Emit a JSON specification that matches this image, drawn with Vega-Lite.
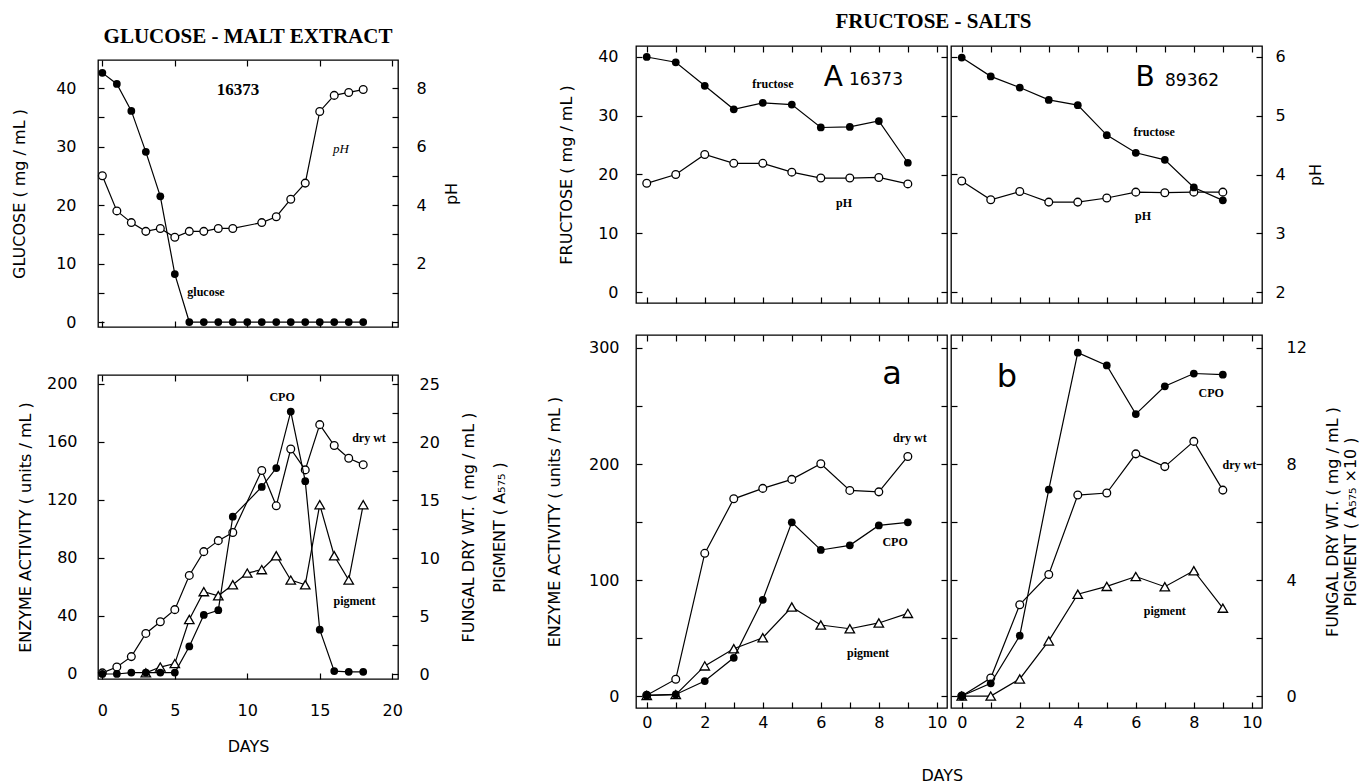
{
  "$schema": "https://vega.github.io/schema/vega-lite/v6.json",
  "background": "white",
  "padding": {"left": 10, "top": 9, "right": 0, "bottom": 0},
  "config": {
    "view": {"stroke": "black", "strokeWidth": 1.3},
    "axis": {"domain": false, "grid": false, "ticks": true, "tickColor": "black", "tickWidth": 1.2, "tickSize": -6,
      "labelFont": "DejaVu Sans", "labelFontSize": 16, "labelColor": "black", "labelOverlap": false, "labelFlush": false,
      "titleFont": "DejaVu Sans", "titleFontSize": 16, "titleFontWeight": "normal", "titleColor": "black"},
    "title": {"color": "black", "subtitleColor": "black"}
  },
  "datasets": {
    "lt": [
      {"series": "glucose", "day": 0, "value": 42.6}, {"series": "glucose", "day": 1, "value": 40.7}, {"series": "glucose", "day": 2, "value": 36.1},
      {"series": "glucose", "day": 3, "value": 29.1}, {"series": "glucose", "day": 4, "value": 21.5}, {"series": "glucose", "day": 5, "value": 8.2},
      {"series": "glucose", "day": 6, "value": 0}, {"series": "glucose", "day": 7, "value": 0}, {"series": "glucose", "day": 8, "value": 0},
      {"series": "glucose", "day": 9, "value": 0}, {"series": "glucose", "day": 10, "value": 0}, {"series": "glucose", "day": 11, "value": 0},
      {"series": "glucose", "day": 12, "value": 0}, {"series": "glucose", "day": 13, "value": 0}, {"series": "glucose", "day": 14, "value": 0},
      {"series": "glucose", "day": 15, "value": 0}, {"series": "glucose", "day": 16, "value": 0}, {"series": "glucose", "day": 17, "value": 0},
      {"series": "glucose", "day": 18, "value": 0},
      {"series": "pH", "day": 0, "value": 5.0}, {"series": "pH", "day": 1, "value": 3.8}, {"series": "pH", "day": 2, "value": 3.4},
      {"series": "pH", "day": 3, "value": 3.1}, {"series": "pH", "day": 4, "value": 3.2}, {"series": "pH", "day": 5, "value": 2.9},
      {"series": "pH", "day": 6, "value": 3.1}, {"series": "pH", "day": 7, "value": 3.1}, {"series": "pH", "day": 8, "value": 3.2},
      {"series": "pH", "day": 9, "value": 3.2}, {"series": "pH", "day": 11, "value": 3.4}, {"series": "pH", "day": 12, "value": 3.6},
      {"series": "pH", "day": 13, "value": 4.2}, {"series": "pH", "day": 14, "value": 4.75}, {"series": "pH", "day": 15, "value": 7.2},
      {"series": "pH", "day": 16, "value": 7.75}, {"series": "pH", "day": 17, "value": 7.85}, {"series": "pH", "day": 18, "value": 7.95}
    ],
    "lb": [
      {"series": "CPO", "day": 0, "value": 0}, {"series": "CPO", "day": 1, "value": 0}, {"series": "CPO", "day": 2, "value": 1},
      {"series": "CPO", "day": 3, "value": 1}, {"series": "CPO", "day": 4, "value": 1}, {"series": "CPO", "day": 5, "value": 1},
      {"series": "CPO", "day": 6, "value": 19}, {"series": "CPO", "day": 7, "value": 40.7}, {"series": "CPO", "day": 8, "value": 44},
      {"series": "CPO", "day": 9, "value": 108.5}, {"series": "CPO", "day": 11, "value": 129}, {"series": "CPO", "day": 12, "value": 142},
      {"series": "CPO", "day": 13, "value": 181}, {"series": "CPO", "day": 14, "value": 133}, {"series": "CPO", "day": 15, "value": 30.6},
      {"series": "CPO", "day": 16, "value": 2}, {"series": "CPO", "day": 17, "value": 1.5}, {"series": "CPO", "day": 18, "value": 1.5},
      {"series": "dry wt", "day": 0, "value": 0.1}, {"series": "dry wt", "day": 1, "value": 0.6}, {"series": "dry wt", "day": 2, "value": 1.5},
      {"series": "dry wt", "day": 3, "value": 3.5}, {"series": "dry wt", "day": 4, "value": 4.5}, {"series": "dry wt", "day": 5, "value": 5.55},
      {"series": "dry wt", "day": 6, "value": 8.5}, {"series": "dry wt", "day": 7, "value": 10.55}, {"series": "dry wt", "day": 8, "value": 11.5},
      {"series": "dry wt", "day": 9, "value": 12.2}, {"series": "dry wt", "day": 11, "value": 17.55}, {"series": "dry wt", "day": 12, "value": 14.5},
      {"series": "dry wt", "day": 13, "value": 19.4}, {"series": "dry wt", "day": 14, "value": 17.6}, {"series": "dry wt", "day": 15, "value": 21.5},
      {"series": "dry wt", "day": 16, "value": 19.7}, {"series": "dry wt", "day": 17, "value": 18.6}, {"series": "dry wt", "day": 18, "value": 18.05},
      {"series": "pigment", "day": 3, "value": 0.1}, {"series": "pigment", "day": 4, "value": 0.6}, {"series": "pigment", "day": 5, "value": 0.9},
      {"series": "pigment", "day": 6, "value": 4.7}, {"series": "pigment", "day": 7, "value": 7.1}, {"series": "pigment", "day": 8, "value": 6.75},
      {"series": "pigment", "day": 9, "value": 7.7}, {"series": "pigment", "day": 10, "value": 8.7}, {"series": "pigment", "day": 11, "value": 9.0},
      {"series": "pigment", "day": 12, "value": 10.2}, {"series": "pigment", "day": 13, "value": 8.1}, {"series": "pigment", "day": 14, "value": 7.7},
      {"series": "pigment", "day": 15, "value": 14.6}, {"series": "pigment", "day": 16, "value": 10.2}, {"series": "pigment", "day": 17, "value": 8.1},
      {"series": "pigment", "day": 18, "value": 14.6}
    ],
    "fa": [
      {"series": "fructose", "day": 0, "value": 40}, {"series": "fructose", "day": 1, "value": 39.1}, {"series": "fructose", "day": 2, "value": 35.1},
      {"series": "fructose", "day": 3, "value": 31.1}, {"series": "fructose", "day": 4, "value": 32.2}, {"series": "fructose", "day": 5, "value": 31.9},
      {"series": "fructose", "day": 6, "value": 28}, {"series": "fructose", "day": 7, "value": 28.1}, {"series": "fructose", "day": 8, "value": 29.1},
      {"series": "fructose", "day": 9, "value": 22},
      {"series": "pH", "day": 0, "value": 3.85}, {"series": "pH", "day": 1, "value": 4.0}, {"series": "pH", "day": 2, "value": 4.34},
      {"series": "pH", "day": 3, "value": 4.19}, {"series": "pH", "day": 4, "value": 4.19}, {"series": "pH", "day": 5, "value": 4.04},
      {"series": "pH", "day": 6, "value": 3.94}, {"series": "pH", "day": 7, "value": 3.94}, {"series": "pH", "day": 8, "value": 3.95},
      {"series": "pH", "day": 9, "value": 3.84}
    ],
    "fb": [
      {"series": "fructose", "day": 0, "value": 39.9}, {"series": "fructose", "day": 1, "value": 36.7}, {"series": "fructose", "day": 2, "value": 34.8},
      {"series": "fructose", "day": 3, "value": 32.7}, {"series": "fructose", "day": 4, "value": 31.8}, {"series": "fructose", "day": 5, "value": 26.7},
      {"series": "fructose", "day": 6, "value": 23.7}, {"series": "fructose", "day": 7, "value": 22.5}, {"series": "fructose", "day": 8, "value": 17.8},
      {"series": "fructose", "day": 9, "value": 15.6},
      {"series": "pH", "day": 0, "value": 3.89}, {"series": "pH", "day": 1, "value": 3.57}, {"series": "pH", "day": 2, "value": 3.71},
      {"series": "pH", "day": 3, "value": 3.53}, {"series": "pH", "day": 4, "value": 3.53}, {"series": "pH", "day": 5, "value": 3.6},
      {"series": "pH", "day": 6, "value": 3.7}, {"series": "pH", "day": 7, "value": 3.69}, {"series": "pH", "day": 8, "value": 3.7},
      {"series": "pH", "day": 9, "value": 3.7}
    ],
    "ea": [
      {"series": "CPO", "day": 0, "value": 0.6}, {"series": "CPO", "day": 1, "value": 1.4}, {"series": "CPO", "day": 2, "value": 12.9},
      {"series": "CPO", "day": 3, "value": 33}, {"series": "CPO", "day": 4, "value": 83}, {"series": "CPO", "day": 5, "value": 149.7},
      {"series": "CPO", "day": 6, "value": 125.9}, {"series": "CPO", "day": 7, "value": 129.9}, {"series": "CPO", "day": 8, "value": 147.1},
      {"series": "CPO", "day": 9, "value": 149.7},
      {"series": "dry wt", "day": 0, "value": 0.03}, {"series": "dry wt", "day": 1, "value": 0.58}, {"series": "dry wt", "day": 2, "value": 4.92},
      {"series": "dry wt", "day": 3, "value": 6.8}, {"series": "dry wt", "day": 4, "value": 7.16}, {"series": "dry wt", "day": 5, "value": 7.47},
      {"series": "dry wt", "day": 6, "value": 8.01}, {"series": "dry wt", "day": 7, "value": 7.09}, {"series": "dry wt", "day": 8, "value": 7.04},
      {"series": "dry wt", "day": 9, "value": 8.26},
      {"series": "pigment", "day": 0, "value": 0.02}, {"series": "pigment", "day": 1, "value": 0.05}, {"series": "pigment", "day": 2, "value": 1.04},
      {"series": "pigment", "day": 3, "value": 1.63}, {"series": "pigment", "day": 4, "value": 2.01}, {"series": "pigment", "day": 5, "value": 3.07},
      {"series": "pigment", "day": 6, "value": 2.45}, {"series": "pigment", "day": 7, "value": 2.32}, {"series": "pigment", "day": 8, "value": 2.52},
      {"series": "pigment", "day": 9, "value": 2.85}
    ],
    "eb": [
      {"series": "CPO", "day": 0, "value": 0}, {"series": "CPO", "day": 1, "value": 11}, {"series": "CPO", "day": 2, "value": 52},
      {"series": "CPO", "day": 3, "value": 178}, {"series": "CPO", "day": 4, "value": 296}, {"series": "CPO", "day": 5, "value": 285},
      {"series": "CPO", "day": 6, "value": 243}, {"series": "CPO", "day": 7, "value": 267}, {"series": "CPO", "day": 8, "value": 278},
      {"series": "CPO", "day": 9, "value": 277},
      {"series": "dry wt", "day": 0, "value": 0}, {"series": "dry wt", "day": 1, "value": 0.62}, {"series": "dry wt", "day": 2, "value": 3.15},
      {"series": "dry wt", "day": 3, "value": 4.19}, {"series": "dry wt", "day": 4, "value": 6.93}, {"series": "dry wt", "day": 5, "value": 7.0},
      {"series": "dry wt", "day": 6, "value": 8.35}, {"series": "dry wt", "day": 7, "value": 7.91}, {"series": "dry wt", "day": 8, "value": 8.78},
      {"series": "dry wt", "day": 9, "value": 7.1},
      {"series": "pigment", "day": 0, "value": 0}, {"series": "pigment", "day": 1, "value": 0}, {"series": "pigment", "day": 2, "value": 0.59},
      {"series": "pigment", "day": 3, "value": 1.9}, {"series": "pigment", "day": 4, "value": 3.51}, {"series": "pigment", "day": 5, "value": 3.78},
      {"series": "pigment", "day": 6, "value": 4.12}, {"series": "pigment", "day": 7, "value": 3.77}, {"series": "pigment", "day": 8, "value": 4.32},
      {"series": "pigment", "day": 9, "value": 3.03}
    ],
    "notes": [
      {"panel": "LT", "label": "16373", "day": 9.36, "value": 39.7},
      {"panel": "LT", "label": "pH", "day": 16.47, "value": 29.6},
      {"panel": "LT", "label": "glucose", "day": 7.15, "value": 5.1},
      {"panel": "LB", "label": "CPO", "day": 12.4, "value": 191},
      {"panel": "LB", "label": "dry wt", "day": 18.4, "value": 163},
      {"panel": "LB", "label": "pigment", "day": 17.4, "value": 50},
      {"panel": "A", "label": "fructose", "day": 4.35, "value": 35.4},
      {"panel": "A", "label": "pH", "day": 6.8, "value": 15.1},
      {"panel": "A", "label": "A", "day": 6.43, "value": 36.4},
      {"panel": "A", "label": "16373", "day": 7.9, "value": 36},
      {"panel": "B", "label": "fructose", "day": 6.63, "value": 27.2},
      {"panel": "B", "label": "pH", "day": 6.25, "value": 12.9},
      {"panel": "B", "label": "B", "day": 6.32, "value": 36.4},
      {"panel": "B", "label": "89362", "day": 7.94, "value": 35.9},
      {"panel": "a", "label": "a", "day": 8.46, "value": 278},
      {"panel": "a", "label": "dry wt", "day": 9.07, "value": 222},
      {"panel": "a", "label": "CPO", "day": 8.56, "value": 133},
      {"panel": "a", "label": "pigment", "day": 7.63, "value": 37},
      {"panel": "b", "label": "b", "day": 1.56, "value": 275},
      {"panel": "b", "label": "CPO", "day": 8.6, "value": 261},
      {"panel": "b", "label": "dry wt", "day": 9.57, "value": 199},
      {"panel": "b", "label": "pigment", "day": 7.0, "value": 73}
    ]
  },
  "columns": 2,
  "align": "none",
  "spacing": {"row": 0, "column": 36},
  "concat": [
    {"width": 1, "height": 1, "view": {"stroke": null}, "data": {"values": [{"v": 0}]}, "mark": {"type": "point", "size": 0, "opacity": 0}, "encoding": {}},
    {"width": 1, "height": 1, "view": {"stroke": null}, "data": {"values": [{"v": 0}]}, "mark": {"type": "point", "size": 0, "opacity": 0}, "encoding": {}},
    {
      "spacing": 48,
      "bounds": "flush",
      "vconcat": [
        {
          "width": 300, "height": 267,
          "title": {"text": " ", "fontSize": 12, "subtitle": "GLUCOSE - MALT EXTRACT", "subtitleFont": "Liberation Serif", "subtitleFontSize": 21, "subtitleFontWeight": "bold", "subtitlePadding": 2, "anchor": "middle", "frame": "group", "offset": 11},
          "data": {"name": "lt"},
          "resolve": {"scale": {"y": "independent"}, "axis": {"x": "independent"}},
          "layer": [
            {"transform": [{"filter": "datum.series === 'pH'"}],
             "mark": {"type": "line", "color": "black", "strokeWidth": 1.2, "point": {"filled": true, "fill": "white", "stroke": "black", "strokeWidth": 1.3, "size": 60, "opacity": 1}},
             "encoding": {
               "x": {"field": "day", "type": "quantitative", "scale": {"domain": [-0.3, 20.4], "nice": false, "zero": false}, "axis": {"orient": "top", "values": [0, 5, 10, 15, 20], "labels": false, "title": null}},
               "y": {"field": "value", "type": "quantitative", "scale": {"domain": [-0.17, 8.96], "nice": false, "zero": false}, "axis": {"orient": "right", "values": [0, 1, 2, 3, 4, 5, 6, 7, 8], "labelExpr": "datum.value % 2 === 0 && datum.value > 0 ? datum.label : ''", "title": "pH", "titleAngle": 270, "titleBaseline": "top", "labelPadding": 24, "titlePadding": 17}}}},
            {"transform": [{"filter": "datum.series === 'glucose'"}],
             "mark": {"type": "line", "color": "black", "strokeWidth": 1.2, "point": {"filled": true, "fill": "black", "size": 60, "opacity": 1}},
             "encoding": {
               "x": {"field": "day", "type": "quantitative", "scale": {"domain": [-0.3, 20.4], "nice": false, "zero": false}, "axis": {"orient": "bottom", "values": [0, 5, 10, 15, 20], "labels": false, "title": null}},
               "y": {"field": "value", "type": "quantitative", "scale": {"domain": [-0.85, 44.8], "nice": false, "zero": false}, "axis": {"orient": "left", "values": [0, 5, 10, 15, 20, 25, 30, 35, 40], "labelExpr": "datum.value % 10 === 0 ? datum.label : ''", "title": "GLUCOSE ( mg / mL )", "labelPadding": 28, "titlePadding": 28}}}},
            {"data": {"name": "notes"}, "transform": [{"filter": "datum.panel === 'LT' && datum.label === '16373'"}],
             "mark": {"type": "text", "font": "Liberation Serif", "fontWeight": "bold", "fontSize": 17, "color": "black"},
             "encoding": {
               "x": {"field": "day", "type": "quantitative", "scale": {"domain": [-0.3, 20.4], "nice": false, "zero": false}, "axis": null},
               "y": {"field": "value", "type": "quantitative", "scale": {"domain": [-0.85, 44.8], "nice": false, "zero": false}, "axis": null},
               "text": {"field": "label"}}},
            {"data": {"name": "notes"}, "transform": [{"filter": "datum.panel === 'LT' && datum.label === 'pH'"}],
             "mark": {"type": "text", "font": "Liberation Serif", "fontStyle": "italic", "fontSize": 13, "color": "black"},
             "encoding": {
               "x": {"field": "day", "type": "quantitative", "scale": {"domain": [-0.3, 20.4], "nice": false, "zero": false}, "axis": null},
               "y": {"field": "value", "type": "quantitative", "scale": {"domain": [-0.85, 44.8], "nice": false, "zero": false}, "axis": null},
               "text": {"field": "label"}}},
            {"data": {"name": "notes"}, "transform": [{"filter": "datum.panel === 'LT' && datum.label === 'glucose'"}],
             "mark": {"type": "text", "font": "Liberation Serif", "fontWeight": "bold", "fontSize": 12, "color": "black"},
             "encoding": {
               "x": {"field": "day", "type": "quantitative", "scale": {"domain": [-0.3, 20.4], "nice": false, "zero": false}, "axis": null},
               "y": {"field": "value", "type": "quantitative", "scale": {"domain": [-0.85, 44.8], "nice": false, "zero": false}, "axis": null},
               "text": {"field": "label"}}}
          ]
        },
        {
          "width": 300, "height": 304,
          "data": {"name": "lb"},
          "resolve": {"scale": {"y": "independent"}, "axis": {"x": "independent"}},
          "layer": [
            {"transform": [{"filter": "datum.series === 'pigment'"}],
             "mark": {"type": "line", "color": "black", "strokeWidth": 1.2, "point": {"shape": "triangle-up", "filled": true, "fill": "white", "stroke": "black", "strokeWidth": 1.3, "size": 90, "opacity": 1}},
             "encoding": {
               "x": {"field": "day", "type": "quantitative", "scale": {"domain": [-0.3, 20.4], "nice": false, "zero": false}, "axis": null},
               "y": {"field": "value", "type": "quantitative", "scale": {"domain": [-0.43, 25.78], "nice": false, "zero": false}, "axis": null}}},
            {"transform": [{"filter": "datum.series === 'dry wt'"}],
             "mark": {"type": "line", "color": "black", "strokeWidth": 1.2, "point": {"filled": true, "fill": "white", "stroke": "black", "strokeWidth": 1.3, "size": 60, "opacity": 1}},
             "encoding": {
               "x": {"field": "day", "type": "quantitative", "scale": {"domain": [-0.3, 20.4], "nice": false, "zero": false}, "axis": {"orient": "top", "values": [0, 5, 10, 15, 20], "labels": false, "title": null}},
               "y": {"field": "value", "type": "quantitative", "scale": {"domain": [-0.43, 25.78], "nice": false, "zero": false}, "axis": {"orient": "right", "values": [0, 2.5, 5, 7.5, 10, 12.5, 15, 17.5, 20, 22.5, 25], "labelExpr": "datum.value % 5 === 0 ? datum.label : ''", "title": ["FUNGAL DRY WT. ( mg / mL )", "PIGMENT ( A₅₇₅ )"], "titleAngle": 270, "titleBaseline": "top", "titleLineHeight": 31, "labelPadding": 27, "titlePadding": -10}}}},
            {"transform": [{"filter": "datum.series === 'CPO'"}],
             "mark": {"type": "line", "color": "black", "strokeWidth": 1.2, "point": {"filled": true, "fill": "black", "size": 60, "opacity": 1}},
             "encoding": {
               "x": {"field": "day", "type": "quantitative", "scale": {"domain": [-0.3, 20.4], "nice": false, "zero": false}, "axis": {"orient": "bottom", "values": [0, 5, 10, 15, 20], "title": "DAYS", "labelPadding": 29, "titlePadding": 20}},
               "y": {"field": "value", "type": "quantitative", "scale": {"domain": [-3.45, 206.2], "nice": false, "zero": false}, "axis": {"orient": "left", "values": [0, 40, 80, 120, 160, 200], "title": "ENZYME ACTIVITY ( units / mL )", "labelPadding": 27, "titlePadding": 13}}}},
            {"data": {"name": "notes"}, "transform": [{"filter": "datum.panel === 'LB'"}],
             "mark": {"type": "text", "font": "Liberation Serif", "fontWeight": "bold", "fontSize": 12, "color": "black"},
             "encoding": {
               "x": {"field": "day", "type": "quantitative", "scale": {"domain": [-0.3, 20.4], "nice": false, "zero": false}, "axis": null},
               "y": {"field": "value", "type": "quantitative", "scale": {"domain": [-3.45, 206.2], "nice": false, "zero": false}, "axis": null},
               "text": {"field": "label"}}}
          ]
        }
      ]
    },
    {
      "title": {"text": "DAYS", "orient": "bottom", "anchor": "middle", "frame": "bounds", "dx": -10, "offset": 37, "font": "DejaVu Sans", "fontSize": 16, "fontWeight": "normal"},
      "vconcat": [
        {
          "spacing": 0,
          "title": {"text": "FRUCTOSE - SALTS", "font": "Liberation Serif", "fontSize": 21, "fontWeight": "bold", "anchor": "middle", "frame": "bounds", "offset": 13, "dx": -19},
          "hconcat": [
            {
              "spacing": 32,
              "bounds": "flush",
              "vconcat": [
                {
                  "width": 311, "height": 257,
                  "data": {"name": "fa"},
                  "resolve": {"scale": {"y": "independent"}, "axis": {"x": "independent"}},
                  "layer": [
                    {"transform": [{"filter": "datum.series === 'pH'"}],
                     "mark": {"type": "line", "color": "black", "strokeWidth": 1.2, "point": {"filled": true, "fill": "white", "stroke": "black", "strokeWidth": 1.3, "size": 60, "opacity": 1}},
                     "encoding": {
                       "x": {"field": "day", "type": "quantitative", "scale": {"domain": [-0.37, 10.35], "nice": false, "zero": false}, "axis": {"orient": "top", "values": [0, 1, 2, 3, 4, 5, 6, 7, 8, 9, 10], "labels": false, "title": null}},
                       "y": {"field": "value", "type": "quantitative", "scale": {"domain": [1.813, 6.187], "nice": false, "zero": false}, "axis": {"orient": "right", "values": [2, 3, 4, 5, 6], "labels": false, "title": null}}}},
                    {"transform": [{"filter": "datum.series === 'fructose'"}],
                     "mark": {"type": "line", "color": "black", "strokeWidth": 1.2, "point": {"filled": true, "fill": "black", "size": 60, "opacity": 1}},
                     "encoding": {
                       "x": {"field": "day", "type": "quantitative", "scale": {"domain": [-0.37, 10.35], "nice": false, "zero": false}, "axis": {"orient": "bottom", "values": [0, 1, 2, 3, 4, 5, 6, 7, 8, 9, 10], "labels": false, "title": null}},
                       "y": {"field": "value", "type": "quantitative", "scale": {"domain": [-1.87, 41.87], "nice": false, "zero": false}, "axis": {"orient": "left", "values": [0, 10, 20, 30, 40], "title": "FRUCTOSE ( mg / mL )", "labelPadding": 24, "titlePadding": 23}}}},
                    {"data": {"name": "notes"}, "transform": [{"filter": "datum.panel === 'A' && (datum.label === 'fructose' || datum.label === 'pH')"}],
                     "mark": {"type": "text", "font": "Liberation Serif", "fontWeight": "bold", "fontSize": 12, "color": "black"},
                     "encoding": {
                       "x": {"field": "day", "type": "quantitative", "scale": {"domain": [-0.37, 10.35], "nice": false, "zero": false}, "axis": null},
                       "y": {"field": "value", "type": "quantitative", "scale": {"domain": [-1.87, 41.87], "nice": false, "zero": false}, "axis": null},
                       "text": {"field": "label"}}},
                    {"data": {"name": "notes"}, "transform": [{"filter": "datum.panel === 'A' && datum.label === 'A'"}],
                     "mark": {"type": "text", "font": "DejaVu Sans", "fontSize": 28, "color": "black"},
                     "encoding": {
                       "x": {"field": "day", "type": "quantitative", "scale": {"domain": [-0.37, 10.35], "nice": false, "zero": false}, "axis": null},
                       "y": {"field": "value", "type": "quantitative", "scale": {"domain": [-1.87, 41.87], "nice": false, "zero": false}, "axis": null},
                       "text": {"field": "label"}}},
                    {"data": {"name": "notes"}, "transform": [{"filter": "datum.panel === 'A' && datum.label === '16373'"}],
                     "mark": {"type": "text", "font": "DejaVu Sans", "fontSize": 17, "color": "black"},
                     "encoding": {
                       "x": {"field": "day", "type": "quantitative", "scale": {"domain": [-0.37, 10.35], "nice": false, "zero": false}, "axis": null},
                       "y": {"field": "value", "type": "quantitative", "scale": {"domain": [-1.87, 41.87], "nice": false, "zero": false}, "axis": null},
                       "text": {"field": "label"}}}
                  ]
                },
                {
                  "width": 311, "height": 373,
                  "data": {"name": "ea"},
                  "resolve": {"scale": {"y": "independent"}, "axis": {"x": "independent"}},
                  "layer": [
                    {"transform": [{"filter": "datum.series === 'pigment'"}],
                     "mark": {"type": "line", "color": "black", "strokeWidth": 1.2, "point": {"shape": "triangle-up", "filled": true, "fill": "white", "stroke": "black", "strokeWidth": 1.3, "size": 90, "opacity": 1}},
                     "encoding": {
                       "x": {"field": "day", "type": "quantitative", "scale": {"domain": [-0.37, 10.35], "nice": false, "zero": false}, "axis": null},
                       "y": {"field": "value", "type": "quantitative", "scale": {"domain": [-0.412, 12.448], "nice": false, "zero": false}, "axis": null}}},
                    {"transform": [{"filter": "datum.series === 'dry wt'"}],
                     "mark": {"type": "line", "color": "black", "strokeWidth": 1.2, "point": {"filled": true, "fill": "white", "stroke": "black", "strokeWidth": 1.3, "size": 60, "opacity": 1}},
                     "encoding": {
                       "x": {"field": "day", "type": "quantitative", "scale": {"domain": [-0.37, 10.35], "nice": false, "zero": false}, "axis": {"orient": "top", "values": [0, 1, 2, 3, 4, 5, 6, 7, 8, 9, 10], "labels": false, "title": null}},
                       "y": {"field": "value", "type": "quantitative", "scale": {"domain": [-0.412, 12.448], "nice": false, "zero": false}, "axis": {"orient": "right", "values": [0, 2, 4, 6, 8, 10, 12], "labels": false, "title": null}}}},
                    {"transform": [{"filter": "datum.series === 'CPO'"}],
                     "mark": {"type": "line", "color": "black", "strokeWidth": 1.2, "point": {"filled": true, "fill": "black", "size": 60, "opacity": 1}},
                     "encoding": {
                       "x": {"field": "day", "type": "quantitative", "scale": {"domain": [-0.37, 10.35], "nice": false, "zero": false}, "axis": {"orient": "bottom", "values": [0, 1, 2, 3, 4, 5, 6, 7, 8, 9, 10], "labelExpr": "datum.value % 2 === 0 ? datum.label : ''", "title": null, "labelPadding": 12}},
                       "y": {"field": "value", "type": "quantitative", "scale": {"domain": [-10.3, 311.2], "nice": false, "zero": false}, "axis": {"orient": "left", "values": [0, 50, 100, 150, 200, 250, 300], "labelExpr": "datum.value % 100 === 0 ? datum.label : ''", "title": "ENZYME ACTIVITY ( units / mL )", "labelPadding": 23, "titlePadding": 26}}}},
                    {"data": {"name": "notes"}, "transform": [{"filter": "datum.panel === 'a' && datum.label !== 'a'"}],
                     "mark": {"type": "text", "font": "Liberation Serif", "fontWeight": "bold", "fontSize": 12, "color": "black"},
                     "encoding": {
                       "x": {"field": "day", "type": "quantitative", "scale": {"domain": [-0.37, 10.35], "nice": false, "zero": false}, "axis": null},
                       "y": {"field": "value", "type": "quantitative", "scale": {"domain": [-10.3, 311.2], "nice": false, "zero": false}, "axis": null},
                       "text": {"field": "label"}}},
                    {"data": {"name": "notes"}, "transform": [{"filter": "datum.panel === 'a' && datum.label === 'a'"}],
                     "mark": {"type": "text", "font": "DejaVu Sans", "fontSize": 32, "color": "black"},
                     "encoding": {
                       "x": {"field": "day", "type": "quantitative", "scale": {"domain": [-0.37, 10.35], "nice": false, "zero": false}, "axis": null},
                       "y": {"field": "value", "type": "quantitative", "scale": {"domain": [-10.3, 311.2], "nice": false, "zero": false}, "axis": null},
                       "text": {"field": "label"}}}
                  ]
                }
              ]
            },
            {
              "spacing": 32,
              "bounds": "flush",
              "vconcat": [
                {
                  "width": 311, "height": 257,
                  "data": {"name": "fb"},
                  "resolve": {"scale": {"y": "independent"}, "axis": {"x": "independent"}},
                  "layer": [
                    {"transform": [{"filter": "datum.series === 'pH'"}],
                     "mark": {"type": "line", "color": "black", "strokeWidth": 1.2, "point": {"filled": true, "fill": "white", "stroke": "black", "strokeWidth": 1.3, "size": 60, "opacity": 1}},
                     "encoding": {
                       "x": {"field": "day", "type": "quantitative", "scale": {"domain": [-0.37, 10.35], "nice": false, "zero": false}, "axis": {"orient": "top", "values": [0, 1, 2, 3, 4, 5, 6, 7, 8, 9, 10], "labels": false, "title": null}},
                       "y": {"field": "value", "type": "quantitative", "scale": {"domain": [1.813, 6.187], "nice": false, "zero": false}, "axis": {"orient": "right", "values": [2, 3, 4, 5, 6], "title": "pH", "titleAngle": 270, "titleBaseline": "top", "labelPadding": 19, "titlePadding": 22}}}},
                    {"transform": [{"filter": "datum.series === 'fructose'"}],
                     "mark": {"type": "line", "color": "black", "strokeWidth": 1.2, "point": {"filled": true, "fill": "black", "size": 60, "opacity": 1}},
                     "encoding": {
                       "x": {"field": "day", "type": "quantitative", "scale": {"domain": [-0.37, 10.35], "nice": false, "zero": false}, "axis": {"orient": "bottom", "values": [0, 1, 2, 3, 4, 5, 6, 7, 8, 9, 10], "labels": false, "title": null}},
                       "y": {"field": "value", "type": "quantitative", "scale": {"domain": [-1.87, 41.87], "nice": false, "zero": false}, "axis": {"orient": "left", "values": [0, 10, 20, 30, 40], "labels": false, "title": null}}}},
                    {"data": {"name": "notes"}, "transform": [{"filter": "datum.panel === 'B' && (datum.label === 'fructose' || datum.label === 'pH')"}],
                     "mark": {"type": "text", "font": "Liberation Serif", "fontWeight": "bold", "fontSize": 12, "color": "black"},
                     "encoding": {
                       "x": {"field": "day", "type": "quantitative", "scale": {"domain": [-0.37, 10.35], "nice": false, "zero": false}, "axis": null},
                       "y": {"field": "value", "type": "quantitative", "scale": {"domain": [-1.87, 41.87], "nice": false, "zero": false}, "axis": null},
                       "text": {"field": "label"}}},
                    {"data": {"name": "notes"}, "transform": [{"filter": "datum.panel === 'B' && datum.label === 'B'"}],
                     "mark": {"type": "text", "font": "DejaVu Sans", "fontSize": 28, "color": "black"},
                     "encoding": {
                       "x": {"field": "day", "type": "quantitative", "scale": {"domain": [-0.37, 10.35], "nice": false, "zero": false}, "axis": null},
                       "y": {"field": "value", "type": "quantitative", "scale": {"domain": [-1.87, 41.87], "nice": false, "zero": false}, "axis": null},
                       "text": {"field": "label"}}},
                    {"data": {"name": "notes"}, "transform": [{"filter": "datum.panel === 'B' && datum.label === '89362'"}],
                     "mark": {"type": "text", "font": "DejaVu Sans", "fontSize": 17, "color": "black"},
                     "encoding": {
                       "x": {"field": "day", "type": "quantitative", "scale": {"domain": [-0.37, 10.35], "nice": false, "zero": false}, "axis": null},
                       "y": {"field": "value", "type": "quantitative", "scale": {"domain": [-1.87, 41.87], "nice": false, "zero": false}, "axis": null},
                       "text": {"field": "label"}}}
                  ]
                },
                {
                  "width": 311, "height": 373,
                  "data": {"name": "eb"},
                  "resolve": {"scale": {"y": "independent"}, "axis": {"x": "independent"}},
                  "layer": [
                    {"transform": [{"filter": "datum.series === 'pigment'"}],
                     "mark": {"type": "line", "color": "black", "strokeWidth": 1.2, "point": {"shape": "triangle-up", "filled": true, "fill": "white", "stroke": "black", "strokeWidth": 1.3, "size": 90, "opacity": 1}},
                     "encoding": {
                       "x": {"field": "day", "type": "quantitative", "scale": {"domain": [-0.37, 10.35], "nice": false, "zero": false}, "axis": null},
                       "y": {"field": "value", "type": "quantitative", "scale": {"domain": [-0.412, 12.448], "nice": false, "zero": false}, "axis": null}}},
                    {"transform": [{"filter": "datum.series === 'dry wt'"}],
                     "mark": {"type": "line", "color": "black", "strokeWidth": 1.2, "point": {"filled": true, "fill": "white", "stroke": "black", "strokeWidth": 1.3, "size": 60, "opacity": 1}},
                     "encoding": {
                       "x": {"field": "day", "type": "quantitative", "scale": {"domain": [-0.37, 10.35], "nice": false, "zero": false}, "axis": {"orient": "top", "values": [0, 1, 2, 3, 4, 5, 6, 7, 8, 9, 10], "labels": false, "title": null}},
                       "y": {"field": "value", "type": "quantitative", "scale": {"domain": [-0.412, 12.448], "nice": false, "zero": false}, "axis": {"orient": "right", "values": [0, 2, 4, 6, 8, 10, 12], "labelExpr": "datum.value % 4 === 0 ? datum.label : ''", "title": ["FUNGAL DRY WT. ( mg / mL )", "PIGMENT ( A₅₇₅ ×10 )"], "titleAngle": 270, "titleBaseline": "top", "titleLineHeight": 18, "labelPadding": 30, "titlePadding": 0}}}},
                    {"transform": [{"filter": "datum.series === 'CPO'"}],
                     "mark": {"type": "line", "color": "black", "strokeWidth": 1.2, "point": {"filled": true, "fill": "black", "size": 60, "opacity": 1}},
                     "encoding": {
                       "x": {"field": "day", "type": "quantitative", "scale": {"domain": [-0.37, 10.35], "nice": false, "zero": false}, "axis": {"orient": "bottom", "values": [0, 1, 2, 3, 4, 5, 6, 7, 8, 9, 10], "labelExpr": "datum.value % 2 === 0 ? datum.label : ''", "title": null, "labelPadding": 12}},
                       "y": {"field": "value", "type": "quantitative", "scale": {"domain": [-10.3, 311.2], "nice": false, "zero": false}, "axis": {"orient": "left", "values": [0, 50, 100, 150, 200, 250, 300], "labels": false, "title": null}}}},
                    {"data": {"name": "notes"}, "transform": [{"filter": "datum.panel === 'b' && datum.label !== 'b'"}],
                     "mark": {"type": "text", "font": "Liberation Serif", "fontWeight": "bold", "fontSize": 12, "color": "black"},
                     "encoding": {
                       "x": {"field": "day", "type": "quantitative", "scale": {"domain": [-0.37, 10.35], "nice": false, "zero": false}, "axis": null},
                       "y": {"field": "value", "type": "quantitative", "scale": {"domain": [-10.3, 311.2], "nice": false, "zero": false}, "axis": null},
                       "text": {"field": "label"}}},
                    {"data": {"name": "notes"}, "transform": [{"filter": "datum.panel === 'b' && datum.label === 'b'"}],
                     "mark": {"type": "text", "font": "DejaVu Sans", "fontSize": 32, "color": "black"},
                     "encoding": {
                       "x": {"field": "day", "type": "quantitative", "scale": {"domain": [-0.37, 10.35], "nice": false, "zero": false}, "axis": null},
                       "y": {"field": "value", "type": "quantitative", "scale": {"domain": [-10.3, 311.2], "nice": false, "zero": false}, "axis": null},
                       "text": {"field": "label"}}}
                  ]
                }
              ]
            }
          ]
        }
      ]
    }
  ]
}
